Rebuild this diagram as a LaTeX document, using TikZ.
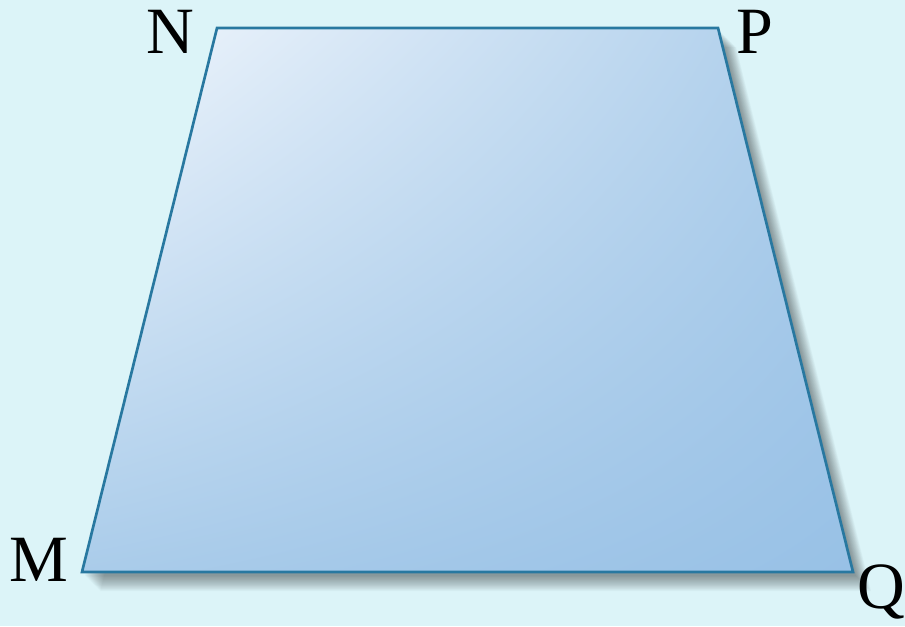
\documentclass[tikz,border=0pt]{standalone}
\usepackage{tikz}
\usepackage{fontspec}
\setmainfont{Liberation Serif}
\usetikzlibrary{shadings}

\definecolor{bgcyan}{RGB}{220,244,248}
\definecolor{edgeblue}{RGB}{40,120,160}
\definecolor{fillpale}{RGB}{242,247,253}
\definecolor{fillmid}{RGB}{170,204,234}
\definecolor{filldeep}{RGB}{152,193,230}

\begin{document}
\begin{tikzpicture}[
    x=0.025cm, y=-0.025cm,
    vlabel/.style={font=\fontsize{47}{50}\selectfont, text=black, inner sep=0pt},
]

% Parameters (pixel grid, y downwards)
\def\W{905}
\def\H{626}

% === Background ===
\fill[bgcyan] (0,0) rectangle (\W,\H);
\useasboundingbox (0,0) rectangle (\W,\H);

% === Vertices ===
\coordinate (M) at (82,572);
\coordinate (N) at (217,28);
\coordinate (P) at (718,28);
\coordinate (Q) at (853,572);

% === Soft shadow (stacked translucent copies) ===
\foreach \s in {1,...,18} {
    \fill[black, opacity=0.022]
        ([shift={(2+0.9*\s,3+0.9*\s)}]M) -- ([shift={(2+0.9*\s,3+0.9*\s)}]N)
        -- ([shift={(2+0.9*\s,3+0.9*\s)}]P) -- ([shift={(2+0.9*\s,3+0.9*\s)}]Q) -- cycle;
}

% === Trapezoid ===
\shade[upper left=fillpale, upper right=fillmid, lower left=fillmid, lower right=filldeep]
    (M) -- (N) -- (P) -- (Q) -- cycle;
\draw[edgeblue, line width=1.9pt, line join=miter] (M) -- (N) -- (P) -- (Q) -- cycle;

% === Vertex labels ===
\node[vlabel] (labN) at (170,32) {N};
\node[vlabel] (labP) at (755,32) {P};
\node[vlabel] (labM) at (39,560) {M};
\node[vlabel] (labQ) at (881,592) {Q};

\end{tikzpicture}
\end{document}
